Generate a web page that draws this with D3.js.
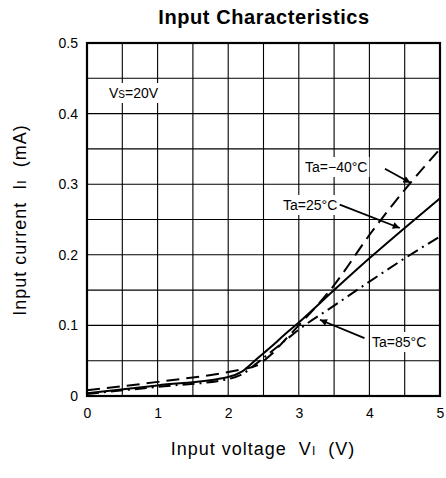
<!DOCTYPE html>
<html><head><meta charset="utf-8">
<script src="https://cdn.jsdelivr.net/npm/d3@7"></script>
<style>
body{margin:0;background:#fff}
svg{display:block}
text{font-family:"Liberation Sans",Arial,Helvetica,sans-serif;fill:#000;white-space:pre}
</style>
</head><body>
<svg id="chart" width="446" height="478"></svg>
<script>
// ---- data ----
const voltage      = [0, 1, 2, 2.2, 2.4, 2.6, 2.8, 3, 3.5, 4, 4.5, 5];
const currentTa25  = [0.004, 0.015, 0.027, 0.035, 0.052, 0.069, 0.087, 0.104, 0.150, 0.195, 0.238, 0.280];
const currentTaM40 = [0.008, 0.020, 0.034, 0.038, 0.043, 0.058, 0.079, 0.100, 0.157, 0.228, 0.292, 0.350];
const currentTa85  = [0.003, 0.013, 0.024, 0.031, 0.046, 0.062, 0.078, 0.094, 0.128, 0.162, 0.195, 0.226];
const xTicks = [0, 1, 2, 3, 4, 5];
const yTicks = [0, 0.1, 0.2, 0.3, 0.4, 0.5];
const xGrid  = [0.5, 1, 1.5, 2, 2.5, 3, 3.5, 4, 4.5];
const yGrid  = [0.05, 0.1, 0.15, 0.2, 0.25, 0.3, 0.35, 0.4, 0.45];

const svg = d3.select("#chart");
const x = d3.scaleLinear().domain([0, 5]).range([87, 440]);
const y = d3.scaleLinear().domain([0, 0.5]).range([396, 43]);

// grid
const g = svg.append("g");
g.selectAll(".vx").data(xGrid).join("line")
  .attr("x1", d => x(d)).attr("x2", d => x(d)).attr("y1", y(0)).attr("y2", y(0.5))
  .attr("stroke", "#000").attr("stroke-width", 1.1);
g.selectAll(".hy").data(yGrid).join("line")
  .attr("y1", d => y(d)).attr("y2", d => y(d)).attr("x1", x(0)).attr("x2", x(5))
  .attr("stroke", "#000").attr("stroke-width", 1.1);

// axes (labels only)
const xa = svg.append("g").attr("transform", `translate(0,${y(0)})`)
  .call(d3.axisBottom(x).tickValues(xTicks).tickSize(0).tickPadding(12).tickFormat(d3.format("d")));
const ya = svg.append("g").attr("transform", `translate(${x(0)},0)`)
  .call(d3.axisLeft(y).tickValues(yTicks).tickSize(0).tickPadding(9).tickFormat(d => d === 0 ? "0" : d3.format(".1f")(d)));
[xa, ya].forEach(a => {
  a.select(".domain").remove();
  a.selectAll("text").attr("font-size", 14).attr("font-family", '"Liberation Sans",Arial,sans-serif').attr("fill", "#000");
});

// curves
const line = d3.line().x(d => x(d[0])).y(d => y(d[1])).curve(d3.curveMonotoneX);
const series = [
  {vals: currentTaM40, dash: "13,7"},
  {vals: currentTa85,  dash: "12,5,2,5"},
  {vals: currentTa25,  dash: null}
];
series.forEach(s => {
  svg.append("path").datum(voltage.map((v, i) => [v, s.vals[i]]))
    .attr("d", line).attr("fill", "none").attr("stroke", "#000")
    .attr("stroke-width", 2).attr("stroke-dasharray", s.dash);
});

// frame
svg.append("rect").attr("x", x(0)).attr("y", y(0.5))
  .attr("width", x(5) - x(0)).attr("height", y(0) - y(0.5))
  .attr("fill", "none").attr("stroke", "#000").attr("stroke-width", 2.2);

// labels with white background
function label(xp, yp, parts, anchor) {
  const grp = svg.append("g");
  const bg = grp.append("rect").attr("fill", "#fff");
  const t = grp.append("text").attr("x", xp).attr("y", yp).attr("font-size", 14)
    .attr("text-anchor", anchor || "start");
  parts.forEach(p => t.append("tspan").attr("font-size", p[1] || 14).text(p[0]));
  const b = t.node().getBBox();
  bg.attr("x", b.x - 2).attr("y", b.y - 2).attr("width", b.width + 4).attr("height", b.height + 4);
}
label(109, 98, [["V"], ["S", 10], ["=20V"]]);
label(305, 172, [["Ta=−40°C"]]);
label(283, 210, [["Ta=25°C"]]);
label(372, 347, [["Ta=85°C"]]);

// arrows
svg.append("defs").append("marker").attr("id", "ah")
  .attr("viewBox", "0 0 10 10").attr("refX", 10).attr("refY", 5)
  .attr("markerWidth", 9).attr("markerHeight", 7).attr("markerUnits", "userSpaceOnUse")
  .attr("orient", "auto")
  .append("path").attr("d", "M0,0 L10,5 L0,10 Z").attr("fill", "#000");
const arrows = [
  [[4.22, 0.322], [4.58, 0.302]],
  [[3.58, 0.271], [4.43, 0.238]],
  [[3.93, 0.082], [3.30, 0.108]]
];
arrows.forEach(a => {
  svg.append("line").attr("x1", x(a[0][0])).attr("y1", y(a[0][1]))
    .attr("x2", x(a[1][0])).attr("y2", y(a[1][1]))
    .attr("stroke", "#000").attr("stroke-width", 1.8).attr("marker-end", "url(#ah)");
});

// titles
svg.append("text").attr("x", 264).attr("y", 24).attr("text-anchor", "middle")
  .attr("font-size", 20).attr("font-weight", "bold").attr("letter-spacing", 0.6)
  .text("Input Characteristics");

const xt = svg.append("text").attr("x", 263).attr("y", 455).attr("text-anchor", "middle")
  .attr("font-size", 18).attr("letter-spacing", 1.0);
xt.append("tspan").text("Input voltage  V");
xt.append("tspan").attr("font-size", 12).text("I");
xt.append("tspan").text("  (V)");

const yt = svg.append("text").attr("transform", "translate(26,220) rotate(-90)")
  .attr("text-anchor", "middle").attr("font-size", 18).attr("letter-spacing", 1.0);
yt.append("tspan").text("Input current  I");
yt.append("tspan").attr("font-size", 12).text("I");
yt.append("tspan").text("  (mA)");
</script>
</body></html>
